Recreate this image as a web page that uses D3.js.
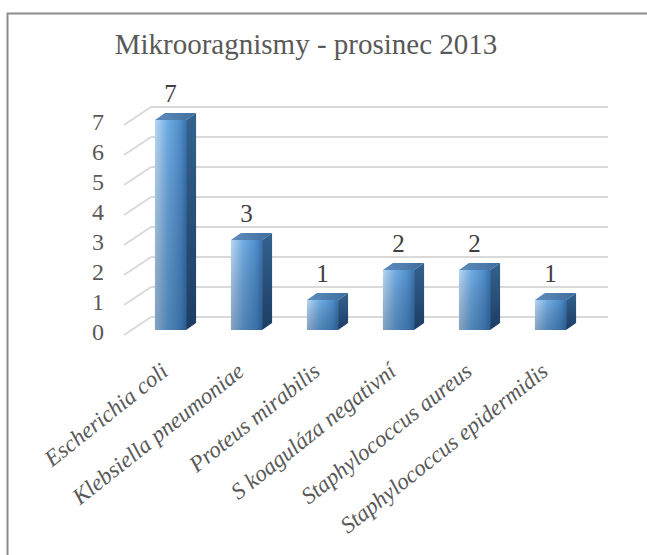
<!DOCTYPE html>
<html>
<head>
<meta charset="utf-8">
<script src="https://cdn.jsdelivr.net/npm/d3@7"></script>
<style>
  body { margin: 0; background: #fff; }
  svg { display: block; }
</style>
</head>
<body>
<svg id="chart" width="647" height="555"></svg>
<script>
const title = "Mikrooragnismy - prosinec 2013";
const categories = [
  "Escherichia coli",
  "Klebsiella pneumoniae",
  "Proteus mirabilis",
  "S koaguláza negativní",
  "Staphylococcus aureus",
  "Staphylococcus epidermidis"
];
const counts = [7, 3, 1, 2, 2, 1];
const yTicks = [0, 1, 2, 3, 4, 5, 6, 7];

const svg = d3.select("#chart");
const FONT = "Liberation Serif";

// 3d offsets (back wall vs floor front, bar depth)
const wallDx = -27, wallDy = 18;
const barDx = 10, barDy = -7;

const x = d3.scaleBand()
  .domain(categories)
  .range([132.5, 588.5])
  .paddingInner(0.59)
  .paddingOuter(0.295);

const y = d3.scaleLinear().domain([0, 7]).range([330, 120]);
const backY = v => y(v) - 13;
const wallLeft = 151, wallRight = 608;

// frame
svg.append("rect")
  .attr("x", 7.5).attr("y", 13.5)
  .attr("width", 700).attr("height", 600)
  .attr("fill", "none")
  .attr("stroke", "#8c8c8c")
  .attr("stroke-width", 2);

svg.append("text")
  .attr("x", 306).attr("y", 54)
  .attr("text-anchor", "middle")
  .attr("font-family", FONT)
  .attr("font-size", 29)
  .attr("fill", "#595959")
  .text(title);

// gradients
const defs = svg.append("defs");
const gFront = defs.append("linearGradient").attr("id", "gFront")
  .attr("x1", 0).attr("x2", 1).attr("y1", 0).attr("y2", 0);
[[0, "#b9d7f3"], [0.4, "#70ace3"], [0.8, "#5190cc"], [1, "#3a74b2"]]
  .forEach(s => gFront.append("stop").attr("offset", s[0]).attr("stop-color", s[1]));
const gShade = defs.append("linearGradient").attr("id", "gShade")
  .attr("x1", 0).attr("x2", 0).attr("y1", 0).attr("y2", 1);
gShade.append("stop").attr("offset", 0).attr("stop-color", "#000").attr("stop-opacity", 0);
gShade.append("stop").attr("offset", 1).attr("stop-color", "#0a2a50").attr("stop-opacity", 0.3);
const gSide = defs.append("linearGradient").attr("id", "gSide")
  .attr("x1", 0).attr("x2", 0).attr("y1", 0).attr("y2", 1);
gSide.append("stop").attr("offset", 0).attr("stop-color", "#34628f");
gSide.append("stop").attr("offset", 1).attr("stop-color", "#1c3d64");
const gTop = defs.append("linearGradient").attr("id", "gTop")
  .attr("x1", 0).attr("x2", 1).attr("y1", 0).attr("y2", 0);
gTop.append("stop").attr("offset", 0).attr("stop-color", "#5f8dbd");
gTop.append("stop").attr("offset", 1).attr("stop-color", "#3e6c9c");

// gridlines: back wall + left wall diagonals
const grid = svg.append("g").attr("stroke", "#d9d9d9").attr("stroke-width", 2);
grid.selectAll("line.h").data(yTicks).enter().append("line")
  .attr("x1", wallLeft).attr("x2", wallRight)
  .attr("y1", d => backY(d)).attr("y2", d => backY(d));
grid.selectAll("line.d").data(yTicks).enter().append("line")
  .attr("x1", wallLeft).attr("y1", d => backY(d))
  .attr("x2", wallLeft + wallDx).attr("y2", d => backY(d) + wallDy);

// y tick labels
svg.append("g").selectAll("text").data(yTicks).enter().append("text")
  .attr("x", 104)
  .attr("y", d => backY(d) + wallDy - 3)
  .attr("dy", "0.35em")
  .attr("text-anchor", "end")
  .attr("font-family", FONT)
  .attr("font-size", 24)
  .attr("fill", "#595959")
  .text(d => d);

// bars
const bw = x.bandwidth();
const bars = svg.append("g").selectAll("g").data(categories).enter().append("g");
bars.append("path")
  .attr("fill", "url(#gSide)")
  .attr("d", (c, i) => {
    const x1 = x(c) + bw, yt = y(counts[i]), yb = y(0);
    return `M${x1},${yt}L${x1 + barDx},${yt + barDy}L${x1 + barDx},${yb + barDy}L${x1},${yb}Z`;
  });
bars.append("path")
  .attr("fill", "url(#gTop)")
  .attr("d", (c, i) => {
    const x0 = x(c), yt = y(counts[i]);
    return `M${x0},${yt}L${x0 + barDx},${yt + barDy}L${x0 + bw + barDx},${yt + barDy}L${x0 + bw},${yt}Z`;
  });
bars.append("rect")
  .attr("x", c => x(c)).attr("width", bw)
  .attr("y", (c, i) => y(counts[i]))
  .attr("height", (c, i) => y(0) - y(counts[i]))
  .attr("fill", "url(#gFront)");
bars.append("rect")
  .attr("x", c => x(c)).attr("width", bw)
  .attr("y", (c, i) => y(counts[i]))
  .attr("height", (c, i) => y(0) - y(counts[i]))
  .attr("fill", "url(#gShade)");

// value labels
bars.append("text")
  .attr("x", c => x(c) + bw / 2)
  .attr("y", (c, i) => y(counts[i]) - 18)
  .attr("text-anchor", "middle")
  .attr("font-family", FONT)
  .attr("font-size", 25)
  .attr("fill", "#404040")
  .text((c, i) => counts[i]);

// category labels
svg.append("g").selectAll("text").data(categories).enter().append("text")
  .attr("transform", c => `translate(${x(c) + bw / 2 - 1},374) rotate(-38.5)`)
  .attr("text-anchor", "end")
  .attr("font-family", FONT)
  .attr("font-style", "italic")
  .attr("font-size", 23)
  .attr("fill", "#595959")
  .text(c => c);
</script>
</body>
</html>
